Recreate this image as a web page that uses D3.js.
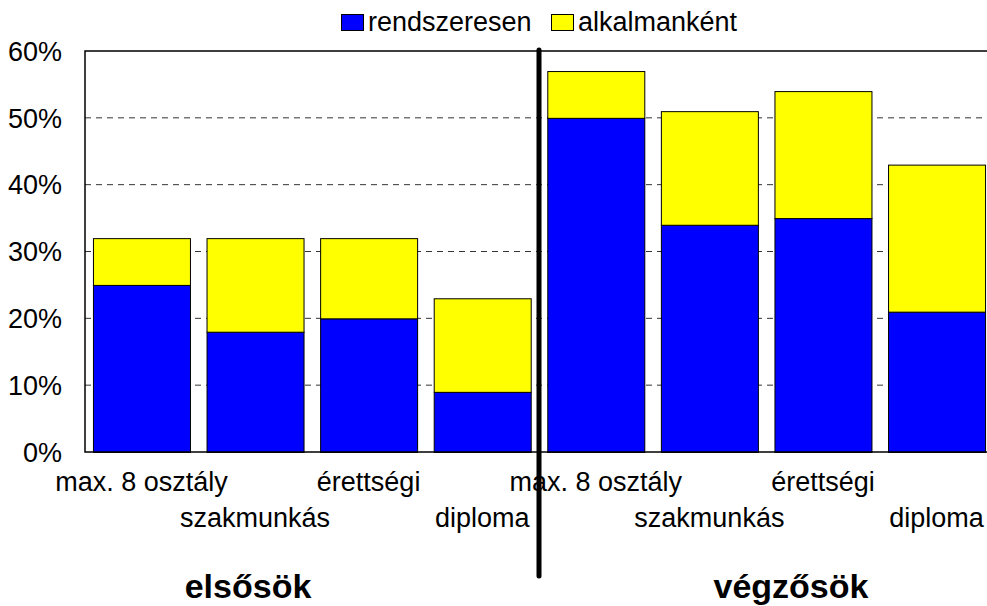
<!DOCTYPE html>
<html>
<head>
<meta charset="utf-8">
<script src="https://cdn.jsdelivr.net/npm/d3@7"></script>
<style>
  body { margin: 0; background: #fff; }
  svg { display: block; font-family: "Liberation Sans", Arial, sans-serif; }
</style>
</head>
<body>
<div id="chart"></div>
<script>
// Stacked bars: elsősök vs végzősök by parents' education

const categories = ["max. 8 osztály", "szakmunkás", "érettségi", "diploma",
                    "max. 8 osztály", "szakmunkás", "érettségi", "diploma"];
const groups = ["elsősök", "végzősök"];
const seriesNames = ["rendszeresen", "alkalmanként"];
const rendszeresen = [25, 18, 20, 9, 50, 34, 35, 21];
const alkalmankent = [7, 14, 12, 14, 7, 17, 19, 22];
const yTicks = [0, 10, 20, 30, 40, 50, 60];
const colors = ["#0000ff", "#ffff00"];

const width = 987, height = 606;
const margin = { top: 51, right: 0, bottom: 154, left: 85 };
const fs = 27;

const svg = d3.select("#chart").append("svg")
  .attr("width", width).attr("height", height);

// the plot area runs a little past the right edge of the picture
const x = d3.scaleBand().domain(d3.range(categories.length))
  .range([margin.left, 993]).paddingInner(0.146).paddingOuter(0.07);
const y = d3.scaleLinear().domain([0, 60]).range([height - margin.bottom, margin.top]);

// gridlines
svg.append("g").selectAll("line").data(yTicks.filter(d => d > 0 && d < 60)).join("line")
  .attr("x1", margin.left).attr("x2", width - margin.right)
  .attr("y1", d => y(d)).attr("y2", d => y(d))
  .attr("stroke", "#333").attr("stroke-width", 1).attr("stroke-dasharray", "6,5");

// y labels
svg.append("g").selectAll("text").data(yTicks).join("text")
  .attr("x", 62).attr("y", d => y(d)).attr("dy", "0.36em")
  .attr("text-anchor", "end").attr("font-size", fs).text(d => d + "%");

// stacked bars
const stack = categories.map((c, i) => [
  { s: 0, y0: 0, y1: rendszeresen[i], i },
  { s: 1, y0: rendszeresen[i], y1: rendszeresen[i] + alkalmankent[i], i }
]).flat();

svg.append("g").selectAll("rect").data(stack).join("rect")
  .attr("x", d => x(d.i) + 0.5).attr("width", x.bandwidth())
  .attr("y", d => y(d.y1) + 0.5).attr("height", d => y(d.y0) - y(d.y1))
  .attr("fill", d => colors[d.s]).attr("stroke", "#000").attr("stroke-width", 1);

// plot frame (top, left, bottom)
svg.append("path")
  .attr("fill", "none").attr("stroke", "#000").attr("stroke-width", 1.5)
  .attr("d", `M${width - margin.right},${y(60)}H${margin.left}V${y(0)}H${width - margin.right}`);

// category labels, alternating rows
svg.append("g").selectAll("text").data(categories).join("text")
  .attr("x", (d, i) => x(i) + x.bandwidth() / 2)
  .attr("y", (d, i) => y(0) + (i % 2 ? 75 : 39))
  .attr("text-anchor", "middle").attr("font-size", fs).text(d => d);

// divider between groups
const divX = (x(3) + x.bandwidth() + x(4)) / 2;
svg.append("line")
  .attr("x1", divX).attr("x2", divX).attr("y1", 50).attr("y2", 576)
  .attr("stroke", "#000").attr("stroke-width", 5).attr("stroke-linecap", "round");

// group titles
const groupX = [248, 791];
svg.append("g").selectAll("text").data(groups).join("text")
  .attr("x", (d, i) => groupX[i]).attr("y", 598)
  .attr("text-anchor", "middle").attr("font-size", 34).attr("font-weight", "bold")
  .text(d => d);

// legend
const legendX = [341, 551];
const lg = svg.append("g").selectAll("g").data(seriesNames).join("g")
  .attr("transform", (d, i) => `translate(${legendX[i]},14)`);
lg.append("rect").attr("x", 0.5).attr("y", 0.5).attr("width", 22).attr("height", 16)
  .attr("fill", (d, i) => colors[i]).attr("stroke", "#000").attr("stroke-width", 1);
lg.append("text").attr("x", 27).attr("y", 17)
  .attr("font-size", fs).text(d => d);
</script>
</body>
</html>
